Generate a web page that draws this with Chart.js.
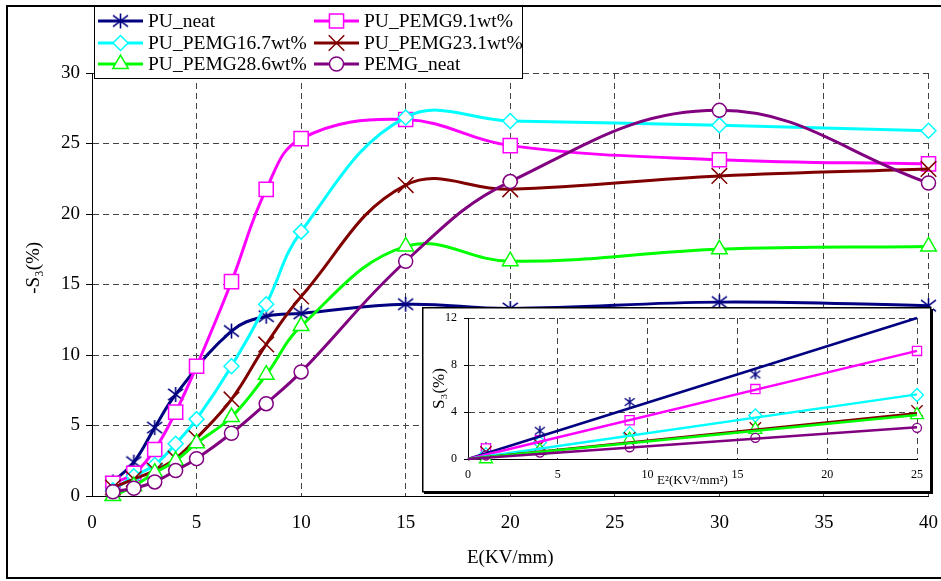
<!DOCTYPE html>
<html>
<head>
<meta charset="utf-8">
<script src="https://cdn.jsdelivr.net/npm/chart.js@4/dist/chart.umd.min.js"></script>
<style>
  html, body { margin: 0; padding: 0; background: #fff; }
  #wrap { position: relative; width: 941px; height: 581px; overflow: hidden; }
  #mainChart { position: absolute; left: 0; top: 0; }
  #insetBox { position: absolute; left: 422px; top: 307px; width: 511px; height: 187px; background: #fff; }
</style>
</head>
<body>
<div id="wrap">
  <canvas id="mainChart" width="941" height="581"></canvas>
  <div id="insetBox"><canvas id="insetChart" width="511" height="187"></canvas></div>
</div>
<script>
// E (KV/mm) values on the main x axis
const E = [1, 2, 3, 4, 5, 6.67, 8.33, 10, 15, 20, 30, 40];
// E^2 values for the inset (first five points)
const E2 = [1, 4, 9, 16, 25];

// -S3 (%) per sample
const puNeat   = [1.0, 2.4, 4.85, 7.2, null, 11.7, 12.75, 12.95, 13.6, 13.3, 13.75, 13.5];
const pemg91   = [0.9, 1.6, 3.3, 5.95, 9.2, 15.2, 21.75, 25.35, 26.7, 24.85, 23.85, 23.55];
const pemg167  = [0.4, 1.4, 2.2, 3.7, 5.45, 9.2, 13.6, 18.75, 26.85, 26.6, 26.3, 25.9];
const pemg231  = [0.6, 1.2, 1.8, 2.65, 4.1, 6.85, 10.75, 14.15, 22.05, 21.75, 22.7, 23.2];
const pemg286  = [0.0, 0.7, 1.65, 2.5, 3.75, 5.6, 8.6, 12.05, 17.7, 16.65, 17.5, 17.7];
const pemgNeat = [0.3, 0.55, 1.0, 1.8, 2.65, 4.45, 6.55, 8.8, 16.65, 22.3, 27.35, 22.2];

const seriesNames = ['PU_neat', 'PU_PEMG9.1wt%', 'PU_PEMG16.7wt%', 'PU_PEMG23.1wt%', 'PU_PEMG28.6wt%', 'PEMG_neat'];
const seriesValues = [puNeat, pemg91, pemg167, pemg231, pemg286, pemgNeat];

// linear fit (through origin) value at E^2 = 25, inset
const fitAt25 = [12.0, 9.2, 5.5, 3.9, 3.75, 2.7];

const mainXTicks = { min: 0, max: 40, step: 5 };
const mainYTicks = { min: 0, max: 30, step: 5 };
const insetXTicks = { min: 0, max: 25, step: 5 };
const insetYTicks = { min: 0, max: 12, step: 4 };

const FONT = "'Liberation Serif', 'Times New Roman', serif";
Chart.defaults.font.family = FONT;
Chart.defaults.color = '#000';

// asterisk marker (vertical bar + X), like the spreadsheet one
function makeAsterisk(size, color, lw) {
  const c = document.createElement('canvas');
  c.width = size; c.height = size;
  const g = c.getContext('2d');
  g.strokeStyle = color; g.lineWidth = lw;
  const m = size / 2, r = size / 2 - 1;
  g.beginPath();
  g.moveTo(m, m - r); g.lineTo(m, m + r);
  g.moveTo(m - r, m - r * 0.75); g.lineTo(m + r, m + r * 0.75);
  g.moveTo(m - r, m + r * 0.75); g.lineTo(m + r, m - r * 0.75);
  g.stroke();
  return c;
}

const colors = ['#000080', '#FF00FF', '#00FFFF', '#800000', '#00FF00', '#800080'];
const markers = [
  { style: makeAsterisk(17, '#000080', 1.6), radius: 8 },
  { style: 'rect', radius: 10 },
  { style: 'rectRot', radius: 7.5 },
  { style: 'crossRot', radius: 11 },
  { style: 'triangle', radius: 9 },
  { style: 'circle', radius: 7 }
];
const insetMarkers = [
  { style: makeAsterisk(12, '#000080', 1.4), radius: 6 },
  { style: 'rect', radius: 6.5 },
  { style: 'rectRot', radius: 6.5 },
  { style: 'crossRot', radius: 8 },
  { style: 'triangle', radius: 7.5 },
  { style: 'circle', radius: 4.5 }
];

const gridColor = '#444';

const frameAndLegend = {
  id: 'frameAndLegend',
  afterDraw(chart) {
    const ctx = chart.ctx;
    ctx.save();
    // outer frame
    ctx.strokeStyle = '#000';
    ctx.lineWidth = 2;
    ctx.strokeRect(7, 6, 945, 572);
    // legend box
    const bx = 94, by = 6, bw = 428, bh = 72;
    ctx.fillStyle = '#fff';
    ctx.fillRect(bx, by, bw, bh);
    ctx.lineWidth = 1;
    ctx.strokeRect(bx + 0.5, by + 0.5, bw, bh);
    const cols = [98, 314];
    const rows = [21, 43, 64];
    ctx.font = '19.5px ' + FONT;
    ctx.textBaseline = 'middle';
    seriesNames.forEach((name, i) => {
      const x0 = cols[i % 2], y = rows[Math.floor(i / 2)];
      ctx.strokeStyle = colors[i];
      ctx.lineWidth = 3;
      ctx.beginPath(); ctx.moveTo(x0, y); ctx.lineTo(x0 + 45, y); ctx.stroke();
      ctx.fillStyle = '#fff';
      ctx.lineWidth = 1.5;
      Chart.helpers.drawPoint(ctx, { pointStyle: markers[i].style, radius: markers[i].radius, rotation: 0, borderWidth: 1.5 }, x0 + 22.5, y);
      ctx.fillStyle = '#000';
      ctx.fillText(name, x0 + 50, y + 1);
    });
    ctx.restore();
  }
};

const mainDatasets = seriesNames.map((name, i) => ({
  label: name,
  data: E.map((x, k) => ({ x: x, y: seriesValues[i][k] })).filter(p => p.y !== null),
  borderColor: colors[i],
  borderWidth: 3,
  tension: 0.4,
  pointStyle: markers[i].style,
  pointRadius: markers[i].radius,
  pointBorderColor: colors[i],
  pointBackgroundColor: '#fff',
  pointBorderWidth: 1.5,
  clip: false,
  order: seriesNames.length - i
}));

new Chart(document.getElementById('mainChart'), {
  type: 'line',
  data: { datasets: mainDatasets },
  options: {
    responsive: false,
    animation: false,
    events: [],
    layout: { padding: { left: 0, right: 7, top: 73, bottom: 5 } },
    plugins: { legend: { display: false }, tooltip: { enabled: false } },
    scales: {
      x: {
        type: 'linear',
        min: mainXTicks.min, max: mainXTicks.max,
        ticks: { stepSize: mainXTicks.step, padding: 16, font: { size: 19 }, maxRotation: 0 },
        grid: { color: gridColor, lineWidth: 1, drawTicks: false },
        border: { color: '#000', width: 1, dash: [6, 4] },
        title: { display: true, text: 'E(KV/mm)', font: { size: 19 }, padding: { top: 0, bottom: 6.6 } },
        afterFit(s) { s.height = 80; s.paddingLeft = 0; s.paddingRight = 0; }
      },
      y: {
        type: 'linear',
        min: mainYTicks.min, max: mainYTicks.max,
        ticks: { stepSize: mainYTicks.step, padding: 6, font: { size: 19 } },
        grid: { color: gridColor, lineWidth: 1, tickLength: 6, tickColor: '#000' },
        border: { color: '#000', width: 1, dash: [6, 4] },
        // leading spaces lift the rotated title a little above the axis centre, as in the original
        title: { display: true, text: '\u00A0\u00A0\u00A0\u00A0\u00A0\u00A0\u00A0-S₃(%)', font: { size: 19 }, padding: { top: 23, bottom: 0 } },
        afterFit(s) { s.width = 92; s.paddingTop = 0; s.paddingBottom = 0; }
      }
    }
  },
  plugins: [frameAndLegend]
});

// inset: S3 vs E^2 with linear fits
const insetFrame = {
  id: 'insetFrame',
  afterDraw(chart) {
    const ctx = chart.ctx;
    ctx.save();
    ctx.strokeStyle = '#000';
    ctx.lineWidth = 1.5;
    ctx.strokeRect(0.75, 0.75, 508, 184);
    ctx.lineWidth = 2;
    ctx.beginPath();
    ctx.moveTo(510, 2); ctx.lineTo(510, 186); ctx.lineTo(2, 186);
    ctx.stroke();
    ctx.restore();
  }
};

const fitDatasets = seriesNames.map((name, i) => ({
  label: name + ' fit',
  data: [{ x: 0, y: 0 }, { x: 25, y: fitAt25[i] }],
  borderColor: colors[i],
  borderWidth: 2.5,
  pointRadius: 0,
  tension: 0,
  clip: false,
  order: 10 - i
}));
const insetPointDatasets = seriesNames.map((name, i) => ({
  label: name,
  data: E2.map((x, k) => ({ x: x, y: seriesValues[i][k] })).filter(p => p.y !== null),
  showLine: false,
  pointStyle: insetMarkers[i].style,
  pointRadius: insetMarkers[i].radius,
  pointBorderColor: colors[i],
  pointBackgroundColor: '#fff',
  pointBorderWidth: 1.3,
  clip: false,
  order: 20 - i
}));

new Chart(document.getElementById('insetChart'), {
  type: 'line',
  data: { datasets: fitDatasets.concat(insetPointDatasets) },
  options: {
    responsive: false,
    animation: false,
    events: [],
    layout: { padding: { left: 0, right: 16, top: 11, bottom: 0 } },
    plugins: { legend: { display: false }, tooltip: { enabled: false } },
    scales: {
      x: {
        type: 'linear',
        min: insetXTicks.min, max: insetXTicks.max,
        ticks: { stepSize: insetXTicks.step, padding: 9, font: { size: 12 }, maxRotation: 0 },
        grid: { color: gridColor, lineWidth: 1, drawTicks: false },
        border: { color: '#000', width: 1, dash: [6, 4] },
        title: { display: true, text: 'E²(KV²/mm²)', font: { size: 13 }, padding: { top: 0, bottom: 6 } },
        afterFit(s) { s.height = 35; s.paddingLeft = 0; s.paddingRight = 0; }
      },
      y: {
        type: 'linear',
        min: insetYTicks.min, max: insetYTicks.max,
        ticks: { stepSize: insetYTicks.step, padding: 7, font: { size: 12 } },
        grid: { color: gridColor, lineWidth: 1, tickLength: 4, tickColor: '#000' },
        border: { color: '#000', width: 1, dash: [6, 4] },
        title: { display: true, text: 'S₃(%)', font: { size: 17 }, padding: { top: 7, bottom: 0 } },
        afterFit(s) { s.width = 46; s.paddingTop = 0; s.paddingBottom = 0; }
      }
    }
  },
  plugins: [insetFrame]
});
</script>
</body>
</html>
